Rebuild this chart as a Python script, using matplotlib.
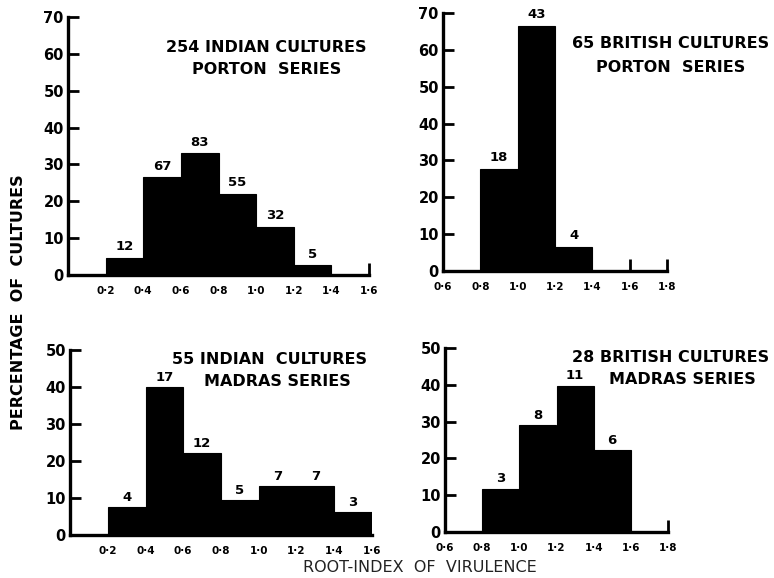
import matplotlib
matplotlib.use("Agg")
import matplotlib.pyplot as plt
import numpy as np

# ---------------------------------------------------------------------------
# data (percentages, with culture counts as labels)
# ---------------------------------------------------------------------------
ind_porton_edges = [0.2, 0.4, 0.6, 0.8, 1.0, 1.2]
ind_porton_pct = [4.7, 26.5, 33.0, 22.0, 13.0, 2.6]
ind_porton_n = ["12", "67", "83", "55", "32", "5"]

brit_porton_edges = [0.8, 1.0, 1.2]
brit_porton_pct = [27.7, 66.5, 6.5]
brit_porton_n = ["18", "43", "4"]

ind_madras_edges = [0.2, 0.4, 0.6, 0.8, 1.0, 1.2, 1.4]
ind_madras_pct = [7.5, 40.0, 22.2, 9.5, 13.2, 13.2, 6.2]
ind_madras_n = ["4", "17", "12", "5", "7", "7", "3"]

brit_madras_edges = [0.8, 1.0, 1.2, 1.4]
brit_madras_pct = [11.8, 29.0, 39.8, 22.2]
brit_madras_n = ["3", "8", "11", "6"]

left_ticks = [0.2, 0.4, 0.6, 0.8, 1.0, 1.2, 1.4, 1.6]
right_ticks = [0.6, 0.8, 1.0, 1.2, 1.4, 1.6, 1.8]

W, H = 774, 578
fig = plt.figure(figsize=(W / 100, H / 100), dpi=100)
fig.patch.set_facecolor("white")


def px_rect(x0, x1, y_top, y_bot):
    return [x0 / W, 1 - y_bot / H, (x1 - x0) / W, (y_bot - y_top) / H]


def panel(rect, xlim, ymax, edges, pct, counts, xticks, end_ticks):
    ax = fig.add_axes(rect)
    ax.bar(edges, pct, width=0.2, align="edge", color="black",
           edgecolor="black", linewidth=0.8, zorder=2)
    for e, p, c in zip(edges, pct, counts):
        ax.text(e + 0.1, p + ymax * 0.018, c, ha="center", va="bottom",
                fontsize=9.5, fontweight="bold", clip_on=False)

    ax.set_xlim(*xlim)
    ax.set_ylim(0, ymax)
    for s in ["top", "right"]:
        ax.spines[s].set_visible(False)
    for s in ["left", "bottom"]:
        ax.spines[s].set_linewidth(2.4)
        ax.spines[s].set_zorder(3)

    ax.set_yticks(np.arange(0, ymax + 1, 10))
    ax.set_yticklabels([f"{v:d}" for v in range(0, ymax + 1, 10)],
                       fontsize=10.5, fontweight="bold")
    ax.tick_params(axis="y", direction="in", length=8, width=2, pad=3)

    ax.set_xticks(xticks)
    ax.set_xticklabels([f"{t:.1f}".replace(".", "\u00b7") for t in xticks],
                       fontsize=7.5, fontweight="bold")
    ax.tick_params(axis="x", which="major", direction="in", length=9,
                   width=2, pad=8)
    # only the empty-bin ends of the baseline carry a small upward tick
    for t, tick in zip(xticks, ax.xaxis.get_major_ticks()):
        if not any(abs(t - e) < 1e-9 for e in end_ticks):
            tick.tick1line.set_visible(False)
    ax.set_facecolor("none")
    return ax


panel(px_rect(68, 369, 17, 275), (0, 1.6), 70,
      ind_porton_edges, ind_porton_pct, ind_porton_n, left_ticks, [1.6])
panel(px_rect(443, 667, 13, 271), (0.6, 1.8), 70,
      brit_porton_edges, brit_porton_pct, brit_porton_n, right_ticks, [1.6, 1.8])
panel(px_rect(70, 372, 350, 535), (0, 1.6), 50,
      ind_madras_edges, ind_madras_pct, ind_madras_n, left_ticks, [])
panel(px_rect(445, 668, 348, 532), (0.6, 1.8), 50,
      brit_madras_edges, brit_madras_pct, brit_madras_n, right_ticks, [1.8])

# --- panel titles ---
titles = [
    (266, 47, "254 INDIAN CULTURES"), (267, 70, "PORTON  SERIES"),
    (671, 43, "65 BRITISH CULTURES"), (671, 67, "PORTON  SERIES"),
    (269, 359, "55 INDIAN  CULTURES"), (277, 382, "MADRAS SERIES"),
    (671, 357, "28 BRITISH CULTURES"), (682, 379, "MADRAS SERIES"),
]
for x, y, t in titles:
    fig.text(x / W, 1 - y / H, t, ha="center", va="center",
             fontsize=11.5, fontweight="bold")

# --- shared axis labels ---
fig.text(19 / W, 1 - 302 / H, "PERCENTAGE  OF  CULTURES", rotation=90,
         ha="center", va="center", fontsize=11.5, fontweight="bold")
fig.text(420 / W, 1 - 567 / H, "ROOT-INDEX  OF  VIRULENCE",
         ha="center", va="center", fontsize=11.5, color="#222222")

fig.savefig("out.png", dpi=100, facecolor="white")
